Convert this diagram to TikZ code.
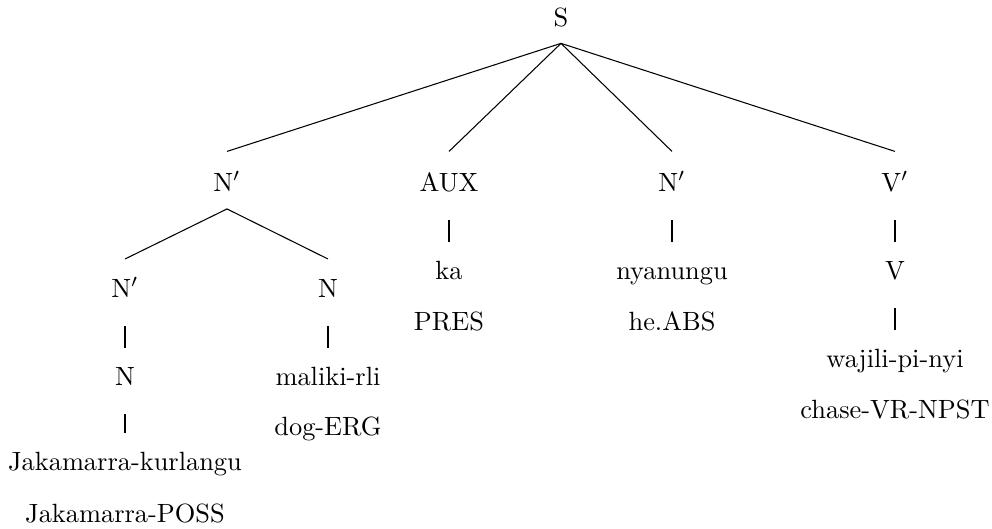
\documentclass[tikz,border=0pt]{standalone}
\begin{document}
\begin{tikzpicture}[x=0.379pt,y=-0.379pt,
  lab/.style={anchor=base,inner sep=0pt},
  br/.style={line width=0.4pt}]
\useasboundingbox (0,0) rectangle (992,529);
% level 0
\node[lab] (S) at (561,27) {S};
% level 1
\node[lab] (Np1) at (227,191) {N$'$};
\node[lab] (AUX) at (449,191) {AUX};
\node[lab] (Np2) at (672,191) {N$'$};
\node[lab] (Vp) at (895,191) {V$'$};
% level 2
\node[lab] (Np3) at (125,297) {N$'$};
\node[lab] (N1) at (328,297) {N};
\node[lab] (ka) at (449,279) {ka};
\node[lab] (nya) at (672,279) {nyanungu};
\node[lab] (V) at (895,279) {V};
% glosses / deeper
\node[lab] (pres) at (449,330) {PRES};
\node[lab] (heabs) at (672,330) {he.ABS};
\node[lab] (N2) at (125,385) {N};
\node[lab] (mal) at (328,385) {maliki-rli};
\node[lab] (dog) at (328,435) {dog-ERG};
\node[lab] (waj) at (895,367) {wajili-pi-nyi};
\node[lab] (chase) at (895,418) {chase-VR-NPST};
\node[lab] (jak) at (125,470) {Jakamarra-kurlangu};
\node[lab] (poss) at (125,522) {Jakamarra-POSS};
% binary edges
\foreach \c in {Np1,AUX,Np2,Vp}
  \draw[br] ([yshift=-6.2pt]S.base) -- ([yshift=15pt]\c.base);
\foreach \c in {Np3,N1}
  \draw[br] ([yshift=-6.8pt]Np1.base) -- ([yshift=14.4pt]\c.base);
% unary bars
\draw[br] ([yshift=-11pt]AUX.base) -- ([yshift=14.2pt]ka.base);
\draw[br] ([yshift=-11pt]Np2.base) -- ([yshift=14.2pt]nya.base);
\draw[br] ([yshift=-11pt]Vp.base) -- ([yshift=14.2pt]V.base);
\draw[br] ([yshift=-11pt]V.base) -- ([yshift=14.2pt]waj.base);
\draw[br] ([yshift=-11pt]Np3.base) -- ([yshift=14.2pt]N2.base);
\draw[br] ([yshift=-11pt]N1.base) -- ([yshift=14.2pt]mal.base);
\draw[br] ([yshift=-11pt]N2.base) -- ([yshift=14.2pt]jak.base);
\end{tikzpicture}
\end{document}
